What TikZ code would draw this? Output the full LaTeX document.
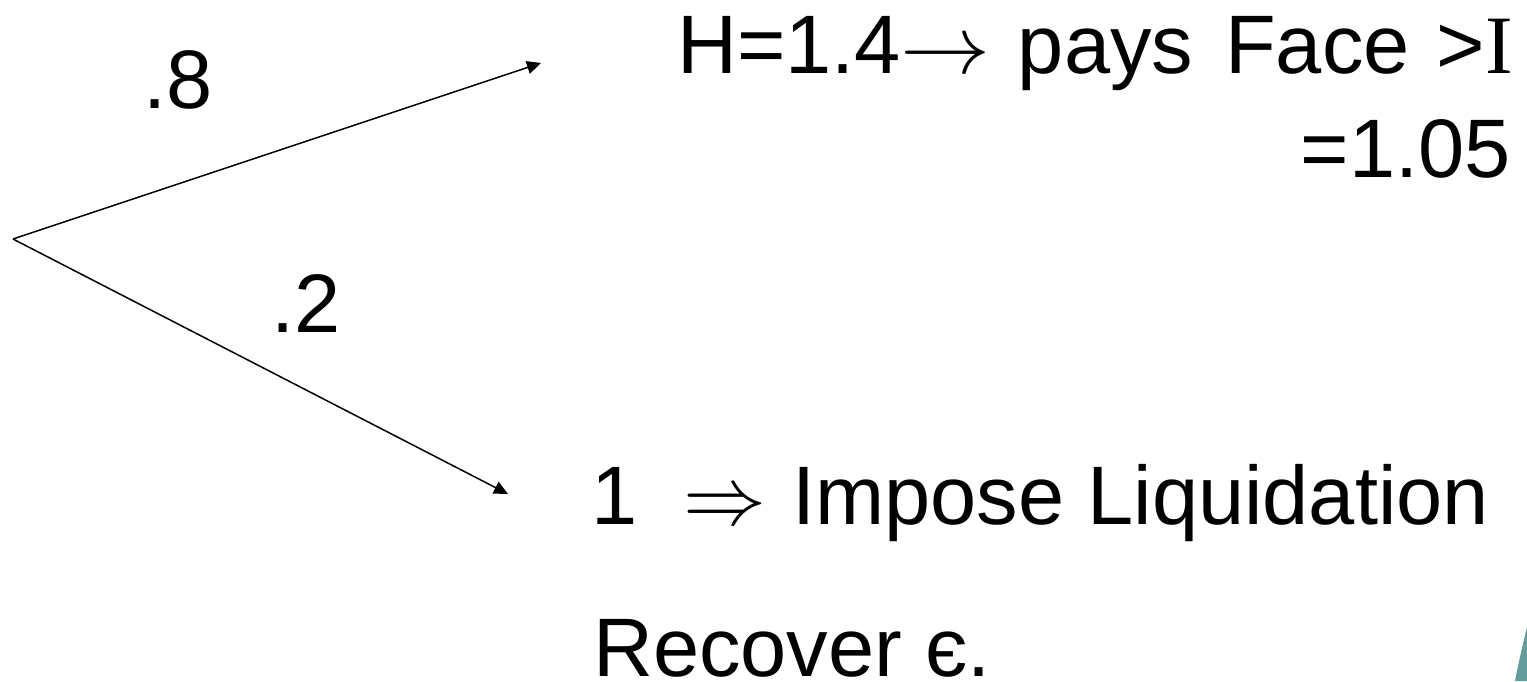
\documentclass[tikz,border=0pt]{standalone}
\usepackage{graphicx}
\usepackage{fontspec}
\setmainfont{Liberation Sans}
\newfontfamily\timesfont{Liberation Serif}
\usetikzlibrary{arrows.meta}
\definecolor{slideteal}{RGB}{100,156,156}
% math arrows drawn at 10pt and enlarged to the text size
\newcommand{\bigsym}[2][8.3]{\scalebox{#1}[8.3]{\fontsize{10}{12}\selectfont$#2$}}
\begin{document}
\begin{tikzpicture}[x=1pt,y=-1pt,
  lbl/.style={inner sep=0pt, font=\fontsize{83}{100}\selectfont},
  branch/.style={-{Triangle[length=14pt,width=13pt]}, line width=1.5pt}]
\useasboundingbox (0,0) rectangle (1527,681);
% decision tree root and branch ends
\coordinate (root) at (13,239);
\coordinate (upend) at (541,63);
\coordinate (downend) at (508,494);
\draw[branch] (root) -- (upend);
\draw[branch] (root) -- (downend);
% branch probabilities
\node[lbl, anchor=base west] (pup) at (143,108) {.8};
\node[lbl, anchor=base west] (pdown) at (271,332) {.2};
% outcomes
\node[lbl, anchor=base west] (good) at (677,73)
  {H=1.4\bigsym[9]{\rightarrow}\hspace{27pt}pays\hspace{32pt}Face\hspace{27pt}>{\timesfont I}};
\node[lbl, anchor=base east] (goodval) at (1511,177) {=1.05};
\node[lbl, anchor=base west] (bad) at (591,524)
  {1\hspace{46pt}\bigsym{\Rightarrow}\hspace{26pt}Impose Liquidation};
\node[lbl, anchor=base west] (badval) at (593,676) {Recover є.};
% corner ornament
\fill[slideteal] (1527,627) .. controls (1522,648) and (1518,665) .. (1515,681) -- (1527,681) -- cycle;
\end{tikzpicture}
\end{document}
